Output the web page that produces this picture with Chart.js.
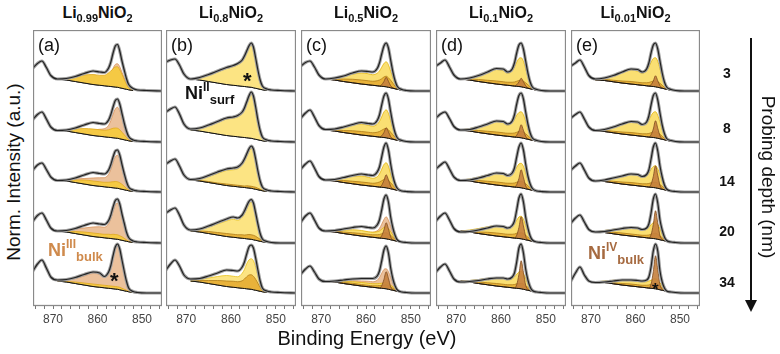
<!DOCTYPE html>
<html><head><meta charset="utf-8">
<script src="https://cdn.jsdelivr.net/npm/chart.js@4"></script>
<style>
body{margin:0;width:780px;height:354px;position:relative;background:#fff;overflow:hidden;font-family:'Liberation Sans',Arial,sans-serif;color:#111}
.abs{position:absolute;white-space:nowrap}
.title{font-weight:bold;font-size:16px;text-align:center;width:130px}
.title sub{font-size:11px;vertical-align:baseline;position:relative;top:4px}
.letter{font-size:18px}
.ann{font-weight:bold;font-size:18px}
.sup{font-size:12px;position:relative;top:-8px}
.sub{font-size:13px;position:relative;top:5px}
.depth{font-weight:bold;font-size:14px;width:30px;text-align:center}
canvas{position:absolute}
</style></head><body>
<script>
// ---------- DATA ----------
const energies = [874.5,873.5,872.5,871.5,870.5,869,867,865,863,861,859.5,858.5,857.5,857,856.5,856,855.5,855,854.5,854,853.5,853,852,851,849,845.5];
const fitEnergies = [869,867,865,863,861,859.5,858.5,857.5,857,856.5,856,855.5,855,854.5,854,853.5,853,852];
const rowOffsets = [4.30,3.28,2.28,1.26,0.26];
const depthLabels = ['3','8','14','20','34'];
const panelLetters = ['(a)','(b)','(c)','(d)','(e)'];
const compositions = ['0.99','0.8','0.5','0.1','0.01'];
const xTickLabels = [870,860,850];

// envelopes (fit sum / measured), one row per probing depth
const envA = [
 [0.46,0.55,0.60,0.47,0.31,0.24,0.25,0.29,0.35,0.40,0.38,0.37,0.46,0.58,0.76,0.90,0.93,0.80,0.60,0.42,0.25,0.13,0.05,0.02,0.01,0.00],
 [0.45,0.55,0.60,0.46,0.30,0.23,0.24,0.28,0.34,0.39,0.37,0.36,0.44,0.55,0.70,0.83,0.86,0.76,0.57,0.38,0.22,0.11,0.04,0.02,0.01,0.00],
 [0.44,0.54,0.58,0.45,0.30,0.23,0.24,0.28,0.34,0.39,0.37,0.36,0.44,0.55,0.70,0.82,0.84,0.74,0.55,0.37,0.21,0.10,0.04,0.02,0.01,0.00],
 [0.44,0.55,0.60,0.46,0.30,0.24,0.25,0.29,0.35,0.40,0.38,0.37,0.45,0.56,0.72,0.85,0.88,0.78,0.58,0.40,0.22,0.11,0.04,0.02,0.01,0.00],
 [0.44,0.58,0.66,0.50,0.32,0.26,0.27,0.31,0.37,0.42,0.40,0.33,0.42,0.55,0.75,0.92,0.98,0.88,0.66,0.44,0.24,0.10,0.03,0.01,0.00,0.00]
];
const envB = [
 [0.58,0.62,0.64,0.52,0.34,0.24,0.27,0.33,0.40,0.47,0.51,0.55,0.62,0.70,0.80,0.90,0.96,0.88,0.66,0.42,0.22,0.10,0.04,0.02,0.01,0.00],
 [0.60,0.66,0.70,0.56,0.36,0.26,0.28,0.34,0.41,0.48,0.50,0.53,0.60,0.68,0.80,0.92,1.00,0.92,0.70,0.44,0.23,0.10,0.04,0.02,0.01,0.00],
 [0.56,0.62,0.66,0.52,0.34,0.25,0.27,0.33,0.40,0.46,0.48,0.50,0.58,0.66,0.76,0.86,0.92,0.86,0.66,0.42,0.22,0.10,0.04,0.02,0.01,0.00],
 [0.60,0.66,0.70,0.56,0.36,0.26,0.28,0.34,0.41,0.48,0.52,0.50,0.56,0.64,0.74,0.83,0.87,0.80,0.60,0.38,0.19,0.08,0.03,0.01,0.00,0.00],
 [0.46,0.58,0.66,0.54,0.36,0.28,0.29,0.34,0.40,0.46,0.45,0.44,0.52,0.62,0.78,0.92,0.96,0.90,0.70,0.46,0.24,0.10,0.04,0.02,0.01,0.00]
];
const envC = [
 [0.50,0.57,0.60,0.48,0.32,0.24,0.26,0.30,0.36,0.40,0.39,0.38,0.45,0.56,0.74,0.90,0.96,0.86,0.62,0.38,0.20,0.09,0.03,0.01,0.00,0.00],
 [0.48,0.58,0.64,0.50,0.33,0.25,0.26,0.30,0.35,0.39,0.37,0.36,0.43,0.54,0.74,0.92,0.98,0.86,0.60,0.36,0.18,0.08,0.03,0.01,0.00,0.00],
 [0.46,0.56,0.62,0.48,0.31,0.24,0.25,0.29,0.33,0.36,0.34,0.33,0.40,0.50,0.70,0.90,0.98,0.84,0.56,0.32,0.16,0.07,0.02,0.01,0.00,0.00],
 [0.42,0.54,0.60,0.46,0.30,0.24,0.25,0.28,0.31,0.33,0.31,0.30,0.36,0.46,0.66,0.88,0.96,0.82,0.52,0.30,0.15,0.06,0.02,0.01,0.00,0.00],
 [0.38,0.48,0.54,0.42,0.28,0.23,0.24,0.26,0.28,0.29,0.29,0.29,0.34,0.44,0.64,0.86,0.94,0.80,0.50,0.28,0.14,0.06,0.02,0.01,0.00,0.00]
];
const envD = [
 [0.50,0.56,0.62,0.48,0.32,0.24,0.26,0.31,0.38,0.45,0.44,0.38,0.44,0.56,0.76,0.92,0.96,0.84,0.60,0.36,0.18,0.08,0.03,0.01,0.00,0.00],
 [0.48,0.56,0.60,0.47,0.31,0.24,0.25,0.30,0.36,0.42,0.41,0.36,0.42,0.54,0.76,0.93,0.98,0.86,0.60,0.36,0.18,0.08,0.03,0.01,0.00,0.00],
 [0.46,0.54,0.60,0.46,0.30,0.23,0.24,0.28,0.33,0.38,0.37,0.33,0.38,0.48,0.70,0.90,0.98,0.84,0.56,0.32,0.16,0.07,0.02,0.01,0.00,0.00],
 [0.44,0.54,0.60,0.46,0.29,0.22,0.23,0.26,0.30,0.34,0.33,0.30,0.35,0.44,0.66,0.90,0.98,0.82,0.52,0.30,0.14,0.06,0.02,0.01,0.00,0.00],
 [0.42,0.52,0.58,0.44,0.28,0.22,0.23,0.25,0.28,0.30,0.30,0.28,0.32,0.40,0.62,0.90,0.98,0.80,0.48,0.26,0.12,0.05,0.02,0.01,0.00,0.00]
];
const envE = [
 [0.50,0.56,0.62,0.48,0.31,0.24,0.26,0.31,0.38,0.44,0.43,0.38,0.44,0.56,0.76,0.92,0.96,0.84,0.60,0.36,0.18,0.08,0.03,0.01,0.00,0.00],
 [0.48,0.55,0.60,0.46,0.30,0.23,0.25,0.30,0.36,0.41,0.40,0.35,0.40,0.52,0.74,0.93,0.98,0.84,0.58,0.34,0.17,0.07,0.03,0.01,0.00,0.00],
 [0.44,0.52,0.58,0.44,0.28,0.22,0.24,0.28,0.32,0.36,0.35,0.31,0.35,0.44,0.66,0.90,0.98,0.82,0.52,0.30,0.14,0.06,0.02,0.01,0.00,0.00],
 [0.40,0.50,0.56,0.42,0.27,0.22,0.23,0.26,0.29,0.31,0.30,0.27,0.30,0.38,0.60,0.88,0.98,0.80,0.46,0.26,0.12,0.05,0.02,0.01,0.00,0.00],
 [0.24,0.40,0.52,0.36,0.24,0.21,0.22,0.24,0.26,0.26,0.25,0.24,0.26,0.32,0.52,0.84,0.98,0.84,0.44,0.22,0.10,0.04,0.02,0.01,0.00,0.00]
];

// Shirley-type backgrounds (on fitEnergies)
const bgA = [0.24,0.22,0.19,0.16,0.13,0.115,0.105,0.095,0.09,0.085,0.08,0.075,0.065,0.055,0.045,0.035,0.025,0.01];
const bgB = [0.24,0.22,0.19,0.16,0.13,0.115,0.105,0.095,0.09,0.085,0.08,0.075,0.065,0.055,0.045,0.035,0.025,0.01];
const bgC = [0.24,0.22,0.19,0.165,0.14,0.125,0.115,0.105,0.10,0.095,0.09,0.085,0.075,0.065,0.055,0.045,0.035,0.015];
const bgD = [0.24,0.22,0.19,0.165,0.14,0.125,0.115,0.105,0.10,0.095,0.09,0.085,0.075,0.065,0.055,0.045,0.035,0.015];
const bgE = [0.22,0.21,0.185,0.16,0.14,0.125,0.115,0.105,0.10,0.095,0.09,0.085,0.075,0.065,0.055,0.045,0.035,0.015];

// component heights above background (on fitEnergies); null = component absent
const tanA = [
 [0,0.01,0.03,0.05,0.07,0.08,0.10,0.18,0.27,0.37,0.45,0.47,0.42,0.32,0.22,0.12,0.05,0],
 [0,0.02,0.05,0.08,0.11,0.14,0.16,0.24,0.34,0.47,0.58,0.62,0.56,0.44,0.30,0.16,0.07,0],
 [0,0.03,0.07,0.11,0.15,0.17,0.18,0.26,0.36,0.50,0.62,0.66,0.60,0.46,0.31,0.17,0.07,0],
 [0,0.04,0.09,0.14,0.19,0.21,0.21,0.29,0.40,0.55,0.68,0.72,0.66,0.50,0.34,0.18,0.07,0],
 [0,0.04,0.10,0.18,0.26,0.26,0.22,0.32,0.45,0.64,0.80,0.86,0.78,0.58,0.38,0.19,0.07,0]
];
const yelA = [
 [0,0.04,0.10,0.16,0.20,0.20,0.21,0.27,0.31,0.36,0.40,0.41,0.36,0.28,0.19,0.10,0.04,0],
 [0,0.03,0.07,0.11,0.13,0.13,0.13,0.15,0.17,0.19,0.20,0.20,0.18,0.14,0.10,0.06,0.02,0],
 [0,0.02,0.05,0.08,0.09,0.09,0.09,0.10,0.11,0.12,0.13,0.13,0.12,0.10,0.07,0.04,0.02,0],
 [0,0.02,0.04,0.06,0.07,0.07,0.07,0.08,0.08,0.09,0.09,0.09,0.08,0.07,0.05,0.03,0.01,0],
 [0,0.01,0.03,0.04,0.05,0.05,0.05,0.05,0.05,0.05,0.05,0.05,0.05,0.04,0.03,0.02,0.01,0]
];
const yelB = [
 [0,0.04,0.13,0.22,0.32,0.37,0.42,0.50,0.58,0.69,0.79,0.86,0.79,0.58,0.35,0.16,0.06,0],
 [0,0.05,0.14,0.23,0.33,0.36,0.40,0.48,0.56,0.69,0.81,0.89,0.82,0.62,0.37,0.17,0.06,0],
 [0,0.04,0.12,0.21,0.30,0.33,0.36,0.45,0.53,0.63,0.73,0.79,0.75,0.57,0.35,0.16,0.06,0],
 [0,0.05,0.13,0.22,0.31,0.36,0.35,0.42,0.50,0.60,0.69,0.74,0.69,0.51,0.31,0.14,0.05,0],
 [0,0.05,0.11,0.17,0.22,0.22,0.22,0.30,0.38,0.50,0.58,0.61,0.58,0.46,0.30,0.15,0.05,0]
];
const golB = [
 null,
 null,
 [0,0.01,0.02,0.02,0.03,0.03,0.03,0.03,0.03,0.04,0.04,0.04,0.04,0.04,0.03,0.02,0.01,0],
 [0,0.02,0.04,0.05,0.06,0.06,0.06,0.07,0.07,0.08,0.09,0.09,0.09,0.08,0.06,0.04,0.02,0],
 [0,0.03,0.06,0.09,0.11,0.12,0.12,0.15,0.19,0.24,0.28,0.29,0.27,0.22,0.15,0.08,0.03,0]
];
const tanC = [
 null,
 null,
 [0,0.01,0.02,0.03,0.04,0.05,0.06,0.09,0.13,0.20,0.28,0.32,0.28,0.20,0.12,0.06,0.02,0],
 [0,0.02,0.04,0.06,0.08,0.09,0.10,0.14,0.19,0.28,0.38,0.44,0.38,0.27,0.16,0.08,0.03,0],
 [0,0.03,0.06,0.08,0.10,0.11,0.11,0.15,0.21,0.30,0.38,0.40,0.35,0.25,0.15,0.07,0.03,0]
];
const yelC = [
 [0,0.04,0.11,0.17,0.22,0.22,0.21,0.25,0.30,0.38,0.46,0.50,0.45,0.33,0.21,0.11,0.04,0],
 [0,0.05,0.12,0.18,0.22,0.21,0.20,0.25,0.31,0.41,0.51,0.56,0.50,0.36,0.22,0.11,0.04,0],
 [0,0.04,0.10,0.15,0.18,0.17,0.16,0.20,0.26,0.36,0.46,0.50,0.44,0.30,0.18,0.09,0.03,0],
 [0,0.03,0.07,0.10,0.11,0.10,0.10,0.12,0.14,0.18,0.22,0.24,0.21,0.16,0.10,0.05,0.02,0],
 [0,0.02,0.04,0.06,0.07,0.07,0.07,0.08,0.09,0.10,0.11,0.12,0.11,0.09,0.07,0.04,0.02,0]
];
const golC = [
 [0,0.02,0.05,0.07,0.08,0.08,0.08,0.10,0.12,0.15,0.19,0.21,0.19,0.15,0.10,0.05,0.02,0],
 [0,0.02,0.04,0.06,0.07,0.07,0.07,0.09,0.11,0.14,0.17,0.19,0.17,0.13,0.09,0.05,0.02,0],
 [0,0.02,0.04,0.05,0.06,0.06,0.06,0.08,0.10,0.13,0.16,0.18,0.16,0.12,0.08,0.04,0.02,0],
 [0,0.02,0.03,0.04,0.05,0.05,0.05,0.06,0.07,0.09,0.11,0.12,0.11,0.09,0.06,0.03,0.01,0],
 [0,0.01,0.02,0.03,0.03,0.03,0.03,0.04,0.05,0.06,0.07,0.08,0.07,0.06,0.04,0.02,0.01,0]
];
const brnC = [
 [0,0,0,0,0,0,0,0,0,0.03,0.10,0.19,0.12,0.04,0.01,0,0,0],
 [0,0,0,0,0,0,0,0,0,0.03,0.10,0.20,0.13,0.04,0.01,0,0,0],
 [0,0,0,0,0,0,0,0,0,0.04,0.14,0.26,0.17,0.05,0.01,0,0,0],
 [0,0,0,0,0,0,0,0,0,0.05,0.17,0.32,0.21,0.06,0.01,0,0,0],
 [0,0,0,0,0,0,0,0,0,0.05,0.18,0.34,0.22,0.06,0.01,0,0,0]
];
const yelD = [
 [0,0.05,0.13,0.21,0.29,0.28,0.24,0.30,0.38,0.48,0.56,0.58,0.52,0.38,0.23,0.11,0.04,0],
 [0,0.05,0.12,0.20,0.27,0.26,0.22,0.28,0.35,0.44,0.50,0.52,0.47,0.35,0.21,0.10,0.04,0],
 [0,0.04,0.11,0.18,0.24,0.23,0.20,0.25,0.31,0.40,0.47,0.49,0.44,0.32,0.19,0.09,0.03,0],
 [0,0.04,0.10,0.16,0.21,0.20,0.18,0.22,0.28,0.36,0.43,0.45,0.40,0.29,0.17,0.08,0.03,0],
 [0,0.03,0.08,0.13,0.17,0.17,0.15,0.18,0.22,0.28,0.33,0.35,0.31,0.23,0.14,0.07,0.03,0]
];
const golD = [
 [0,0.02,0.04,0.05,0.06,0.06,0.06,0.07,0.08,0.10,0.12,0.13,0.12,0.10,0.07,0.04,0.02,0],
 [0,0.02,0.04,0.05,0.06,0.06,0.06,0.07,0.08,0.10,0.12,0.13,0.12,0.10,0.07,0.04,0.02,0],
 [0,0.02,0.04,0.05,0.06,0.06,0.06,0.07,0.08,0.10,0.12,0.13,0.12,0.10,0.07,0.04,0.02,0],
 [0,0.02,0.03,0.05,0.06,0.06,0.06,0.07,0.08,0.10,0.11,0.12,0.11,0.09,0.06,0.04,0.02,0],
 [0,0.02,0.03,0.04,0.05,0.05,0.05,0.06,0.07,0.09,0.10,0.11,0.10,0.08,0.06,0.03,0.01,0]
];
const brnD = [
 [0,0,0,0,0,0,0,0,0,0.03,0.09,0.17,0.11,0.04,0.01,0,0,0],
 [0,0,0,0,0,0,0,0,0,0.04,0.13,0.26,0.16,0.05,0.01,0,0,0],
 [0,0,0,0,0,0,0,0,0,0.05,0.18,0.36,0.22,0.06,0.01,0,0,0],
 [0,0,0,0,0,0,0,0,0,0.06,0.22,0.44,0.27,0.07,0.01,0,0,0],
 [0,0,0,0,0,0,0,0,0,0.07,0.28,0.56,0.34,0.09,0.02,0,0,0]
];
const yelE = [
 [0,0.05,0.13,0.21,0.28,0.27,0.24,0.30,0.38,0.48,0.56,0.58,0.52,0.38,0.23,0.11,0.04,0],
 [0,0.05,0.12,0.19,0.26,0.25,0.22,0.27,0.34,0.43,0.50,0.52,0.46,0.34,0.20,0.10,0.04,0],
 [0,0.04,0.10,0.16,0.21,0.20,0.18,0.22,0.28,0.36,0.42,0.44,0.39,0.28,0.17,0.08,0.03,0],
 [0,0.04,0.09,0.14,0.17,0.16,0.14,0.17,0.21,0.27,0.32,0.34,0.30,0.22,0.13,0.06,0.02,0],
 [0,0.03,0.07,0.10,0.12,0.12,0.11,0.12,0.14,0.16,0.19,0.20,0.18,0.14,0.09,0.05,0.02,0]
];
const golE = [
 [0,0.02,0.03,0.04,0.05,0.05,0.05,0.06,0.07,0.09,0.11,0.12,0.11,0.09,0.06,0.03,0.01,0],
 [0,0.02,0.03,0.04,0.05,0.05,0.05,0.06,0.07,0.09,0.11,0.12,0.11,0.09,0.06,0.03,0.01,0],
 [0,0.02,0.03,0.04,0.05,0.05,0.05,0.06,0.07,0.09,0.10,0.11,0.10,0.08,0.06,0.03,0.01,0],
 [0,0.01,0.03,0.04,0.04,0.04,0.04,0.05,0.06,0.08,0.10,0.11,0.10,0.08,0.05,0.03,0.01,0],
 [0,0.01,0.02,0.03,0.04,0.04,0.04,0.05,0.06,0.08,0.10,0.11,0.10,0.08,0.05,0.03,0.01,0]
];
const brnE = [
 [0,0,0,0,0,0,0,0,0,0.03,0.11,0.22,0.13,0.04,0.01,0,0,0],
 [0,0,0,0,0,0,0,0,0,0.05,0.17,0.34,0.20,0.06,0.01,0,0,0],
 [0,0,0,0,0,0,0,0,0,0.06,0.22,0.44,0.26,0.07,0.01,0,0,0],
 [0,0,0,0,0,0,0,0,0,0.07,0.28,0.56,0.33,0.08,0.02,0,0,0],
 [0,0,0,0,0,0,0,0,0,0.08,0.34,0.66,0.40,0.10,0.02,0,0,0]
];

// ---------- LAYOUT / STYLE ----------
const panelLefts = [33,166,301,436,571];
const panelWidths = [129,130,130,130,129];
const plotTop = 30, plotHeight = 276, axisH = 26, yMax = 5.52;
const X_MIN = 845.5, X_MAX = 874.5;

const STY = {
  tan: {fill:'#EBC19C', line:'#D8925A'},
  yel: {fill:'#FADF72', line:'#E2B40A'},
  yelA:{fill:'#F5C944', line:'#E0A820'},
  yelB:{fill:'#FCE483', line:'#E8C21A'},
  gol: {fill:'#E8B23A', line:'#B07C18'},
  brn: {fill:'rgba(196,128,62,0.9)', line:'#7E4A20'}
};

const panels = [
  {env:envA,bg:bgA,comps:[['tan',tanA],['yelA',yelA]]},
  {env:envB,bg:bgB,comps:[['yelB',yelB],['gol',golB]]},
  {env:envC,bg:bgC,comps:[['tan',tanC],['yel',yelC],['gol',golC],['brn',brnC]]},
  {env:envD,bg:bgD,comps:[['yel',yelD],['gol',golD],['brn',brnD]]},
  {env:envE,bg:bgE,comps:[['yel',yelE],['gol',golE],['brn',brnE]]}
];

const frame = {
  id:'frame',
  afterDraw(chart){
    const {ctx, chartArea:a} = chart;
    ctx.save(); ctx.strokeStyle='#8a8a8a'; ctx.lineWidth=1.3;
    ctx.strokeRect(a.left+0.5, a.top+0.5, a.right-a.left-1, a.bottom-a.top-1);
    ctx.restore();
  }
};

function buildDatasets(p){
  const ds = [];
  const add = d => { d.order = 1000 - ds.length; ds.push(d); return ds.length-1; };
  rowOffsets.forEach((off, r) => {
    const bg = p.bg;
    const bgIdx = add({data: fitEnergies.map((x,i)=>({x, y: off+bg[i]})),
      borderColor:'#111', borderWidth:1, pointRadius:0, fill:false, cubicInterpolationMode:'monotone'});
    p.comps.forEach(([k, arr]) => {
      const c = arr[r]; if (!c) return;
      add({data: fitEnergies.map((x,i)=>({x, y: off+bg[i]+c[i]})),
        borderColor:STY[k].line, borderWidth:0.8, backgroundColor:STY[k].fill,
        pointRadius:0, fill:bgIdx, cubicInterpolationMode:'monotone'});
    });
    add({data: fitEnergies.map((x,i)=>({x, y: off+bg[i]})),
      borderColor:'#111', borderWidth:1, pointRadius:0, fill:false, cubicInterpolationMode:'monotone'});
    const env = p.env[r];
    add({data: energies.map((x,i)=>({x, y: off+env[i]})), borderColor:'#a0a0a0', borderWidth:3.2,
      pointRadius:0, fill:false, cubicInterpolationMode:'monotone'});
    add({data: energies.map((x,i)=>({x, y: off+env[i]})), borderColor:'#222', borderWidth:1.2,
      pointRadius:0, fill:false, cubicInterpolationMode:'monotone'});
  });
  return ds;
}

panels.forEach((p, k) => {
  const cv = document.createElement('canvas');
  cv.width = panelWidths[k]; cv.height = plotHeight + axisH;
  cv.style.left = panelLefts[k]+'px'; cv.style.top = plotTop+'px';
  cv.style.width = panelWidths[k]+'px'; cv.style.height = (plotHeight+axisH)+'px';
  document.body.appendChild(cv);
  new Chart(cv, {
    type:'line',
    data:{datasets: buildDatasets(p)},
    options:{
      responsive:false, animation:false, events:[], devicePixelRatio:1,
      layout:{padding:0},
      plugins:{legend:{display:false}, tooltip:{enabled:false}},
      scales:{
        x:{type:'linear', reverse:true, min:X_MIN, max:X_MAX,
           afterBuildTicks(axis){ const t=[]; for(let v=846; v<=874; v+=2) t.push({value:v}); axis.ticks=t; },
           afterFit(axis){ axis.height = axisH; },
           ticks:{autoSkip:false, maxRotation:0, padding:3, color:'#444', font:{family:'Liberation Sans', size:12},
             callback:(v)=> xTickLabels.includes(v) ? String(v) : ''},
           grid:{drawOnChartArea:false, drawTicks:true, tickLength:3, color:'#777'},
           border:{display:false}},
        y:{display:false, min:0, max:yMax}
      }
    },
    plugins:[frame]
  });
});

// ---------- TEXT ----------
function addText(html, cls, left, top, style){
  const d = document.createElement('div');
  d.className = 'abs ' + cls; d.innerHTML = html;
  d.style.left = left+'px'; d.style.top = top+'px';
  if (style) Object.assign(d.style, style);
  document.body.appendChild(d); return d;
}
compositions.forEach((c,k)=>{
  addText('Li<sub>'+c+'</sub>NiO<sub>2</sub>', 'title', panelLefts[k]+panelWidths[k]/2-65, 4);
  addText(panelLetters[k], 'letter', panelLefts[k]+5, 35);
});
depthLabels.forEach((d,i)=>{
  const ys=[74,129,182,232,283];
  addText(d,'depth',712, ys[i]-9);
});
addText('Ni<span class="sup">III</span><span class="sub">bulk</span>','ann',48,240,{color:'#CF8A4C'});
addText('Ni<span class="sup">II</span><span class="sub">surf</span>','ann',185,83,{color:'#111'});
addText('Ni<span class="sup">IV</span><span class="sub">bulk</span>','ann',588,243,{color:'#A66A40'});
addText('*','ann',110,268,{fontSize:'22px'});
addText('*','ann',243,68,{fontSize:'22px'});
addText('*','ann',652,280,{fontSize:'17px'});

addText('Norm. Intensity (a.u.)','',14-130,172-11,{width:'260px',textAlign:'center',fontSize:'19px',transform:'rotate(-90deg)'});
addText('Binding Energy (eV)','',367-120,327,{width:'240px',textAlign:'center',fontSize:'20px'});
addText('Probing depth (nm)','',768-120,177-11,{width:'240px',textAlign:'center',fontSize:'19px',transform:'rotate(90deg)'});

// arrow
const svgNS='http://www.w3.org/2000/svg';
const svg=document.createElementNS(svgNS,'svg');
svg.setAttribute('width','20'); svg.setAttribute('height','300');
svg.style.position='absolute'; svg.style.left='741px'; svg.style.top='30px';
svg.innerHTML='<line x1="10" y1="8" x2="10" y2="272" stroke="#111" stroke-width="2"/><polygon points="4,270 16,270 10,282" fill="#111"/>';
document.body.appendChild(svg);
</script>
</body></html>
